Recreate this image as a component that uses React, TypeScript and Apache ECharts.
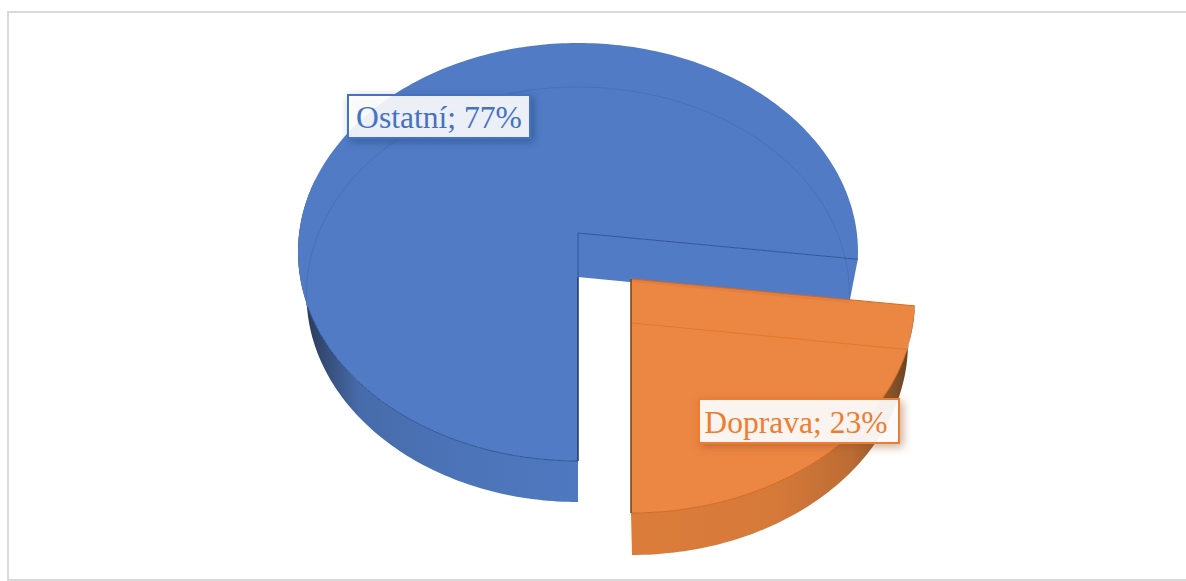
import React, { useEffect, useRef } from "react";
import * as echarts from "echarts";

const categories = ["Ostatní", "Doprava"];
const shares = [77, 23];

const stops = (list: [number, string][]) => list.map(([offset, color]) => ({ offset, color }));

const BLUE = {
  top: { cx: 578, cy: 233, rTop: 190, rBot: 228, rx: 280 },
  bot: { cx: 578, cy: 277, rTop: 190, rBot: 225, rx: 271.5 },
  face: "#517CC5",
  stroke: "#4472C4",
  edge: "#1F3864",
  line: "#2F5597",
  backLine: "#4A70B5",
  wall: stops([
    [0, "#25344F"],
    [0.08, "#33486F"],
    [0.22, "#476CAB"],
    [0.6, "#4C74B8"],
    [1, "#4E78C0"],
  ]),
  box: { x: 348, y: 95, width: 182, height: 43 },
  textDx: 0,
  textDy: 1,
  labelFill: "rgba(255,255,255,0.87)",
  shadow: "rgba(30,50,100,0.45)",
};
const ORANGE = {
  top: { cx: 631, cy: 279, rTop: 194, rBot: 234, rx: 284 },
  bot: { cx: 632, cy: 323, rTop: 192, rBot: 232, rx: 276 },
  face: "#EB8039",
  stroke: "#ED7D31",
  edge: "#6E4314",
  line: "#D2691F",
  backLine: "#E2772F",
  wall: stops([
    [0, "#DB7C3A"],
    [0.5, "#D67A3A"],
    [0.78, "#BC6C33"],
    [0.92, "#85532A"],
    [1, "#5F3D1C"],
  ]),
  box: { x: 699, y: 399, width: 200, height: 44 },
  textDx: -3,
  textDy: 1,
  labelFill: "rgba(255,255,255,0.9)",
  shadow: "rgba(150,80,30,0.5)",
};
const STYLES = [BLUE, ORANGE];

const project = (f: any, deg: number) => {
  const p = (f.rBot - f.rTop) / (f.rBot + f.rTop);
  const q = f.rTop * (1 + p);
  const k = f.rx * Math.sqrt(1 - p * p);
  const t = (deg * Math.PI) / 180;
  const d = 1 + p * Math.cos(t);
  return [f.cx + (k * Math.sin(t)) / d, f.cy - (q * Math.cos(t)) / d];
};
const arc = (f: any, from: number, to: number) => {
  const n = Math.max(2, Math.ceil(Math.abs(to - from)));
  const out: number[][] = [];
  for (let i = 0; i <= n; i++) out.push(project(f, from + ((to - from) * i) / n));
  return out;
};

const renderSlice = (_: any, api: any) => {
  const i = api.value(2);
  const s: any = STYLES[i];
  const total = shares.reduce((a, b) => a + b, 0);
  const sweep = (api.value(0) / total) * 360;
  const a0 = i === 0 ? 180 : 180 - sweep;
  const a1 = a0 + sweep;
  const children: any[] = [];
  const vT = [s.top.cx, s.top.cy];
  const vB = [s.bot.cx, s.bot.cy];
  const wallFrom = a0;
  const wallTo = i === 0 ? 285 : a1;
  const line = (points: number[][], stroke: string, lineWidth = 1) => ({
    type: "polyline",
    shape: { points },
    style: { fill: "none", stroke, lineWidth },
  });

  // outer wall
  children.push({
    type: "polygon",
    shape: { points: [...arc(s.bot, wallFrom, wallTo), ...arc(s.top, wallTo, wallFrom)] },
    style: { fill: new echarts.graphic.LinearGradient(0, 0, 1, 0, s.wall) },
  });
  if (i === 0) {
    // cut wall seen behind the notch
    children.push({
      type: "polygon",
      shape: { points: [vT, project(s.top, a1), project(s.bot, a1), vB] },
      style: { fill: s.face },
    });
  }
  // top face
  children.push({
    type: "polygon",
    shape: { points: [vT, ...arc(s.top, a0, a1)] },
    style: { fill: s.face, opacity: i === 1 ? 0.95 : 1 },
  });
  // far rim of the base, seen through the face
  children.push(line(i === 0 ? arc(s.bot, 262, a1) : [vB, project(s.bot, a0)], s.backLine));
  // front rim of the face
  children.push(line(i === 0 ? arc(s.top, 180, 250) : arc(s.top, a0 + 12, a1), s.line));
  // radial edges
  children.push(line(i === 0 ? [vT, project(s.top, a1)] : [project(s.top, a0), vT], s.line));
  children.push(line([i === 0 ? vB : vT, project(s.top, 180)], s.edge, 1.5));
  if (i === 0) children.push(line([vT, vB], s.line));
  return { type: "group", children };
};

const renderLabel = (_: any, api: any) => {
  const i = api.value(2);
  const s: any = STYLES[i];
  return {
    type: "group",
    children: [
      {
        type: "rect",
        shape: s.box,
        style: {
          fill: s.labelFill,
          stroke: s.stroke,
          lineWidth: 2,
          shadowBlur: 8,
          shadowOffsetX: 3,
          shadowOffsetY: 3,
          shadowColor: s.shadow,
        },
      },
      {
        type: "text",
        style: {
          x: s.box.x + s.box.width / 2 + s.textDx,
          y: s.box.y + s.box.height / 2 + s.textDy,
          text: `${categories[i]}; ${api.value(0)}%`,
          font: "31.6px 'Liberation Serif'",
          fill: s.stroke,
          align: "center",
          verticalAlign: "middle",
        },
      },
    ],
  };
};

export default function App() {
  const ref = useRef<HTMLDivElement>(null);
  useEffect(() => {
    document.body.style.margin = "0";
    document.body.style.overflow = "hidden";
    const chart = echarts.init(ref.current!, null, { renderer: "svg" });
    const data = shares.map((v, i) => [v, categories[i], i]);
    chart.setOption({
      animation: false,
      backgroundColor: "#fff",
      graphic: [
        {
          type: "rect",
          shape: { x: 8, y: 12, width: 1300, height: 568 },
          style: { fill: "none", stroke: "#D9D9D9", lineWidth: 2 },
          silent: true,
          z: 0,
        },
      ],
      series: [
        { type: "custom", coordinateSystem: "none", renderItem: renderSlice, data, z: 2, silent: true },
        { type: "custom", coordinateSystem: "none", renderItem: renderLabel, data, z: 3, silent: true },
      ],
    });
    return () => chart.dispose();
  }, []);
  return <div ref={ref} style={{ width: 1186, height: 581 }} />;
}
